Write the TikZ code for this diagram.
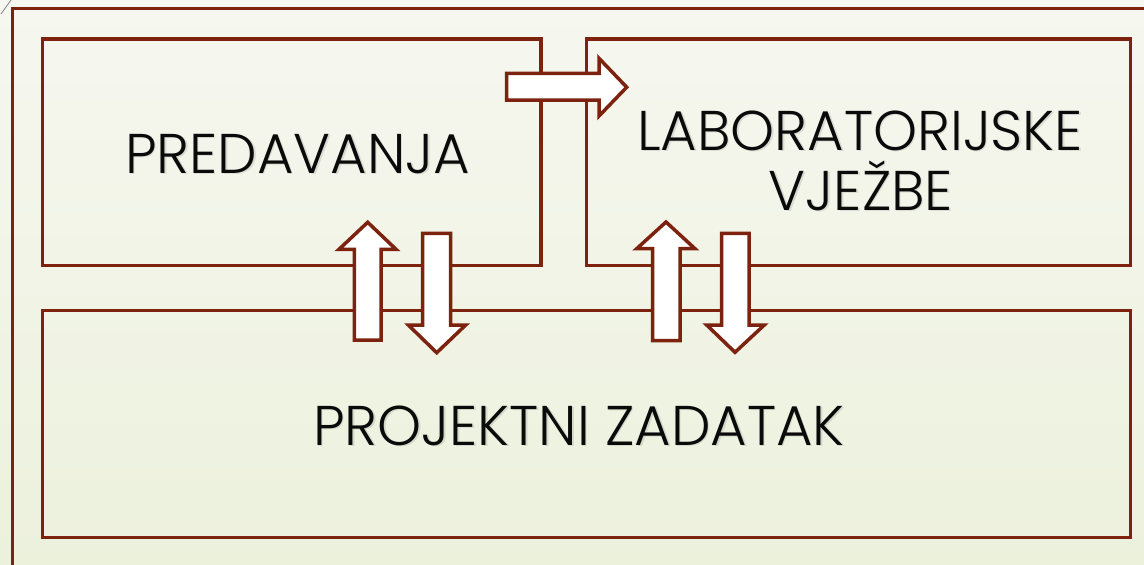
\documentclass[tikz,border=0pt]{standalone}
\usepackage{fontspec}
\setmainfont{Poppins}[UprightFont=* Light]
\definecolor{brd}{RGB}{124,34,14}
\definecolor{bgtop}{RGB}{246,247,240}
\definecolor{bgbot}{RGB}{236,241,220}
\definecolor{txt}{RGB}{10,10,10}
\tikzset{
  box/.style={draw=brd, line width=3.5pt, rectangle, inner sep=0pt, fill=none},
  blockarrow/.style={draw=brd, line width=3.5pt, fill=white, line join=miter},
  frameline/.style={draw=brd, line width=3.5pt},
  lbl/.style={anchor=base, inner sep=0pt, text=txt, font=\fontsize{56}{62}\selectfont},
  shadowlbl/.style={lbl, text=black, opacity=0.1}
}
\begin{document}
\begin{tikzpicture}[x=1pt,y=-1pt]
\useasboundingbox (0,0) rectangle (1144,565);
\shade[top color=bgtop, bottom color=bgbot] (0,0) rectangle (1144,565);
\begin{scope}
\clip (0,0) rectangle (1144,565);
\draw[frameline] (12.5,600) -- (12.5,8.7) -- (1160,8.7);
\draw[gray, line width=0.8pt] (1,14) -- (11,0);
\end{scope}
% boxes
\node[box, minimum width=498.7pt, minimum height=226.7pt] (pred) at (291.7,152.3) {};
\node[box, minimum width=544pt, minimum height=226.7pt] (lab) at (858.7,152.3) {};
\node[box, minimum width=1088.4pt, minimum height=227pt] (proj) at (586.5,424.2) {};
% block arrows
\draw[blockarrow] (506.7,73.3) -- (599,73.3) -- (599,58.3) -- (626.7,87.2) -- (599,116) -- (599,100) -- (506.7,100) -- cycle;
\draw[blockarrow] (354.3,340) -- (354.3,249.3) -- (339,249.3) -- (367.7,222.3) -- (396,249.3) -- (381,249.3) -- (381,340) -- cycle;
\draw[blockarrow] (422.7,233.3) -- (450.7,233.3) -- (450.7,325) -- (465.7,325) -- (436.7,352.7) -- (408.3,325) -- (422.7,325) -- cycle;
\draw[blockarrow] (652.7,340.7) -- (652.7,248.7) -- (636.7,248.7) -- (666,222) -- (695,248.7) -- (680,248.7) -- (680,340.7) -- cycle;
\draw[blockarrow] (721.7,233.3) -- (749,233.3) -- (749,325) -- (764.3,325) -- (735,352.3) -- (706.7,325) -- (721.7,325) -- cycle;
% label shadows
\node[shadowlbl] at (299,174.8) {PREDAVANJA};
\node[shadowlbl] at (861.5,151.5) {LABORATORIJSKE};
\node[shadowlbl] at (862.5,211.5) {VJEŽBE};
\node[shadowlbl] at (580.5,446.5) {PROJEKTNI ZADATAK};
% labels
\node[lbl] (tpred) at (297.5,173.3) {PREDAVANJA};
\node[lbl] (tlab1) at (860,150) {LABORATORIJSKE};
\node[lbl] (tlab2) at (861,210) {VJEŽBE};
\node[lbl] (tproj) at (579,445) {PROJEKTNI ZADATAK};
\end{tikzpicture}
\end{document}
